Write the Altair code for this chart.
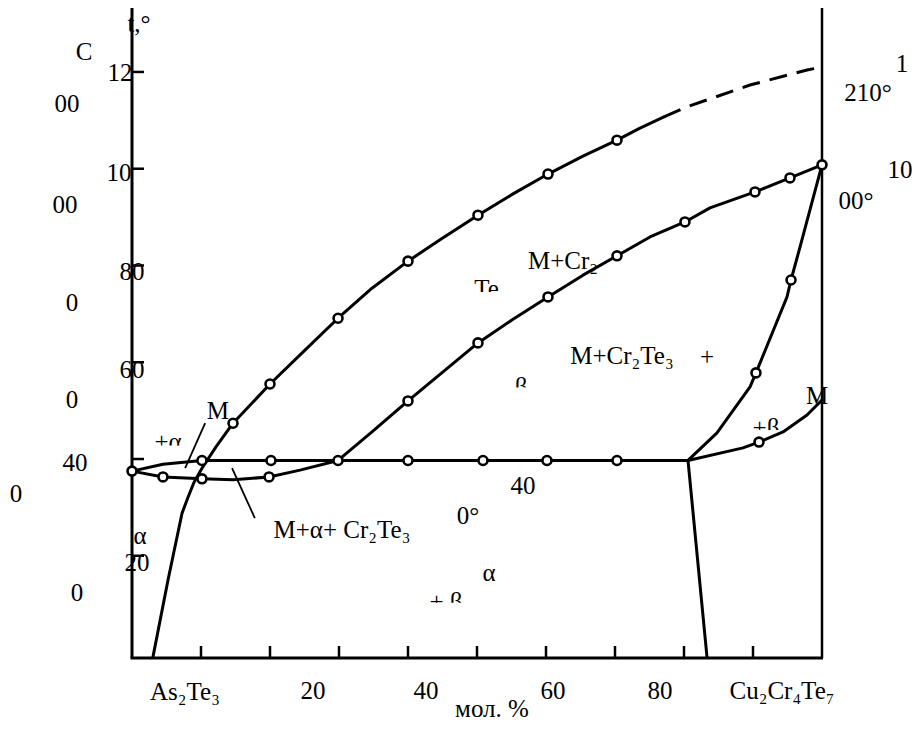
import altair as alt
import pandas as pd

# ---------------- data: x = mol. % Cu2Cr4Te7, t = temperature, °C ----------------
# liquidus (solid part) and its dashed continuation
liq_x = [3.04, 5.22, 7.25, 8.12, 8.99, 10.14, 12.17, 14.64, 20.0, 25.07, 29.86, 34.78,
         40.0, 44.64, 50.14, 55.22, 60.29, 65.36, 70.29, 73.62, 77.10]
liq_t = [-9, 150, 288, 321, 352, 381, 425, 474, 555, 625, 691, 753,
         809, 853, 904, 948, 989, 1026, 1059, 1084, 1107]
dash_x = [77.10, 80.43, 89.57, 97.83, 100.0]
dash_t = [1107, 1128, 1173, 1204, 1210]

# second curve (M / M+Cr2Te3)
mid_x = [29.86, 34.78, 40.0, 45.07, 50.14, 55.22, 60.29, 65.36, 70.29, 75.07,
         80.14, 83.77, 90.29, 95.36, 100.0]
mid_t = [397, 456, 520, 580, 640, 689, 735, 780, 820, 859,
         890, 919, 952, 981, 1008]

# right steep curve
rgt_x = [100.0, 96.81, 95.51, 94.93, 90.43, 89.57, 84.78, 80.58]
rgt_t = [1008, 838, 770, 735, 578, 549, 454, 397]

# lower right curve
lwr_x = [80.58, 88.55, 90.87, 94.35, 97.83, 100.0]
lwr_t = [397, 423, 435, 456, 491, 522]

# near-vertical line
vrt_x = [80.58, 83.33]
vrt_t = [397, -9]

# horizontal (≈400 °C)
hor_x = [10.14, 80.58]
hor_t = [397, 397]

# upper-left and lower-left curves
ul_x = [0.0, 4.49, 10.14]
ul_t = [375, 389, 397]
ll_x = [0.0, 4.49, 10.14, 14.64, 19.86, 24.35, 29.86]
ll_t = [375, 363, 359, 357, 363, 377, 397]

# experimental points (open circles)
pt_x = [0.0, 4.49, 10.14, 19.86,
        10.14, 20.14, 29.86, 40.0, 50.87, 60.14, 70.29,
        14.64, 20.0, 29.86, 40.0, 50.14, 60.29, 70.29,
        40.0, 50.14, 60.29, 70.29, 80.14, 90.29, 95.36, 100.0,
        95.51, 90.43, 90.87]
pt_t = [375, 363, 359, 363,
        397, 397, 397, 397, 397, 397, 397,
        474, 555, 691, 809, 904, 989, 1059,
        520, 640, 735, 820, 890, 952, 981, 1008,
        770, 578, 435]

# leader lines of labels
lead_id = ["a", "a", "b", "b"]
lead_x = [10.6, 7.7, 14.5, 17.8]
lead_t = [474, 381, 381, 278]

# axis ticks
ytick_vals = [1200, 1000, 800, 600, 400, 200]
xtick_vals = [10, 20, 30, 40, 50, 60, 70, 80, 90]

# text labels (as printed in the source figure)
labels = ["C", "t,°", "12", "00", "10", "00", "80", "0", "60", "0", "40", "0",
          "α", "20", "0",
          "M", "+α", "M+α+ Cr₂Te₃", "40", "0°", "α", "+ β",
          "M+Cr₂", "Te₃", "M+Cr₂Te₃", "+", "β", "M", "+β",
          "1", "210°", "10", "00°",
          "As₂Te₃", "20", "40", "60", "80", "Cu₂Cr₄Te₇", "мол. %"]
lab_x = [-6.96, 1.01, -1.74, -9.42, -1.88, -9.71, 0.0, -8.70, 0.0, -8.70, -8.26, -16.81,
         1.16, 0.72, -7.97,
         12.46, 5.22, 30.43, 56.67, 48.70, 51.74, 45.51,
         62.46, 52.03, 71.01, 83.33, 56.38, 99.28, 91.88,
         111.6, 106.67, 111.3, 104.93,
         7.68, 26.23, 42.61, 61.01, 76.52, 94.20, 52.17]
lab_t = [1241, 1299, 1198, 1134, 991, 925, 786, 722, 584, 522, 392, 328,
         240, 185, 123,
         499, 436, 253, 344, 282, 164, 104,
         809, 751, 613, 611, 549, 530, 464,
         1216, 1157, 997, 933,
         -82, -80, -80, -80, -80, -80, -117]

# white masks that cut off the lower part of the clipped labels
mask_x1 = [2.90, 48.70, 54.60, 89.28, 42.30]
mask_x2 = [7.83, 55.65, 57.50, 94.64, 48.70]
mask_t1 = [428, 745, 548, 460, 103]
mask_t2 = [406, 720, 518, 437, 75]

# ---------------- chart ----------------
XS = alt.Scale(domain=[0, 100], nice=False, zero=False)
YS = alt.Scale(domain=[-11.3, 1332.2], nice=False, zero=False)
FONT = "Liberation Serif"

def X(f="x"):
    return alt.X(f"{f}:Q", scale=XS, axis=None)

def Y(f="t"):
    return alt.Y(f"{f}:Q", scale=YS, axis=None)

rows = []
for name, xs, ts in [("liq", liq_x, liq_t), ("mid", mid_x, mid_t), ("rgt", rgt_x, rgt_t),
                     ("lwr", lwr_x, lwr_t), ("vrt", vrt_x, vrt_t), ("hor", hor_x, hor_t),
                     ("ul", ul_x, ul_t), ("ll", ll_x, ll_t)]:
    for i, (a, b) in enumerate(zip(xs, ts)):
        rows.append({"curve": name, "i": i, "x": a, "t": b})
curves_df = pd.DataFrame(rows)

text_df = pd.DataFrame({"label": labels, "x": lab_x, "t": lab_t})
mask_df = pd.DataFrame({"x": mask_x1, "x2": mask_x2, "t": mask_t1, "t2": mask_t2})
dash_df = pd.DataFrame({"x": dash_x, "t": dash_t, "i": range(len(dash_x))})
pts_df = pd.DataFrame({"x": pt_x, "t": pt_t})
lead_df = pd.DataFrame({"id": lead_id, "x": lead_x, "t": lead_t})
frame_df = pd.DataFrame({"k": [0]})

texts = alt.Chart(text_df).mark_text(
    font=FONT, fontSize=25, align="center", baseline="middle", color="black"
).encode(x=X(), y=Y(), text="label:N")

masks = alt.Chart(mask_df).mark_rect(color="white").encode(
    x=X(), x2="x2:Q", y=Y(), y2="t2:Q")

left_axis = alt.Chart(frame_df).mark_rule(color="black", strokeWidth=3).encode(
    x=alt.value(0), y=alt.value(0), y2=alt.value(650))
right_axis = alt.Chart(frame_df).mark_rule(color="black", strokeWidth=2.5).encode(
    x=alt.value(690), y=alt.value(0), y2=alt.value(650))
bottom_axis = alt.Chart(frame_df).mark_rule(color="black", strokeWidth=3).encode(
    x=alt.value(-1.5), x2=alt.value(691), y=alt.value(650))

yticks = alt.Chart(pd.DataFrame({"t": ytick_vals})).mark_rule(
    color="black", strokeWidth=2.5).encode(x=alt.value(0), x2=alt.value(12), y=Y())
xticks = alt.Chart(pd.DataFrame({"x": xtick_vals})).mark_rule(
    color="black", strokeWidth=2.5).encode(x=X(), y=alt.value(638), y2=alt.value(650))

lines = alt.Chart(curves_df).mark_line(
    color="black", strokeWidth=3, strokeJoin="round", strokeCap="round"
).encode(x=X(), y=Y(), detail="curve:N", order="i:Q")

dashed = alt.Chart(dash_df).mark_line(
    color="black", strokeWidth=3, strokeDash=[18, 10]
).encode(x=X(), y=Y(), order="i:Q")

leaders = alt.Chart(lead_df).mark_line(color="black", strokeWidth=1.8).encode(
    x=X(), y=Y(), detail="id:N")

points = alt.Chart(pts_df).mark_point(
    shape="circle", filled=True, fill="white", stroke="black", strokeWidth=2.6,
    size=80, opacity=1
).encode(x=X(), y=Y())

chart = alt.layer(
    texts, masks, left_axis, right_axis, bottom_axis, yticks, xticks,
    lines, dashed, leaders, points
).properties(
    width=690, height=650,
    autosize=alt.AutoSizeParams(type="none"),
    padding={"left": 124, "top": 0, "right": 92, "bottom": 68},
    background="white",
).configure_view(stroke=None)

chart.save("out.html", embed_options={"renderer": "svg", "actions": False})
